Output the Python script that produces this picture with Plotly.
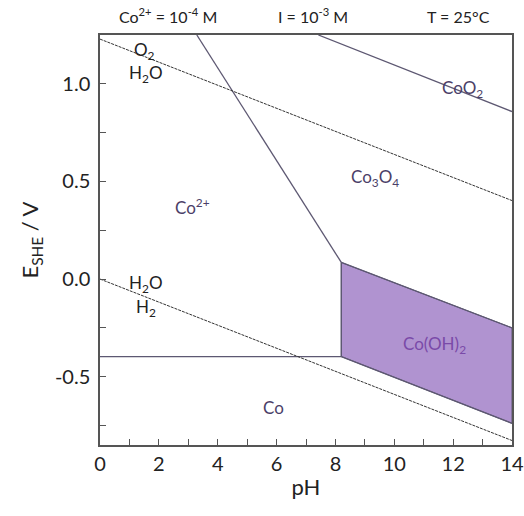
import plotly.graph_objects as go

# water stability lines (dashed)
o2_ph = [0, 14]
o2_e = [1.229, 0.402]
h2_ph = [0, 14]
h2_e = [0.0, -0.827]

# phase boundaries (solid)
co_co2_ph = [0, 8.2]
co_co2_e = [-0.397, -0.397]
co_cooh_ph = [8.2, 14]
co_cooh_e = [-0.397, -0.739]
cooh_top_ph = [8.2, 14]
cooh_top_e = [0.085, -0.25]
vert_ph = [8.2, 8.2]
vert_e = [-0.397, 0.085]
co3o4_co2_ph = [3.29, 8.2]
co3o4_co2_e = [1.25, 0.085]
coo2_ph = [7.42, 14]
coo2_e = [1.25, 0.858]

# Co(OH)2 stability region
cooh_ph = [8.2, 14, 14, 8.2, 8.2]
cooh_e = [0.085, -0.25, -0.739, -0.397, 0.085]

# species labels
species = ['CoO<sub>2</sub>', 'Co<sub>3</sub>O<sub>4</sub>', 'Co<sup>2+</sup>', 'Co(OH)<sub>2</sub>', 'Co']
species_ph = [12.33, 9.35, 3.13, 11.35, 5.9]
species_e = [0.975, 0.52, 0.37, -0.34, -0.66]
water_labels = ['O<sub>2</sub>', 'H<sub>2</sub>O', 'H<sub>2</sub>O', 'H<sub>2</sub>']
water_ph = [1.5, 1.55, 1.55, 1.55]
water_e = [1.17, 1.05, -0.025, -0.15]

header = ['Co<sup>2+</sup> = 10<sup>-4</sup> M', 'I = 10<sup>-3</sup> M', 'T = 25°C']
header_x = [0.165, 0.517, 0.869]

LINE = '#5d5872'
FONT = 'Lato'

fig = go.Figure()
fig.add_trace(go.Scatter(x=cooh_ph, y=cooh_e, fill='toself', fillcolor='#b093d0',
                         mode='lines', line=dict(color=LINE, width=1), hoverinfo='skip'))
for px, py in [(co_co2_ph, co_co2_e), (co_cooh_ph, co_cooh_e), (cooh_top_ph, cooh_top_e),
               (vert_ph, vert_e), (co3o4_co2_ph, co3o4_co2_e), (coo2_ph, coo2_e)]:
    fig.add_trace(go.Scatter(x=px, y=py, mode='lines', line=dict(color=LINE, width=1.3)))
for px, py in [(o2_ph, o2_e), (h2_ph, h2_e)]:
    fig.add_trace(go.Scatter(x=px, y=py, mode='lines',
                             line=dict(color='#333333', width=1, dash='3px,1px')))

for t, x, y in zip(species, species_ph, species_e):
    col = '#7a4aa8' if 'OH' in t else '#4b3f68'
    fig.add_annotation(x=x, y=y, text=t, showarrow=False, font=dict(size=17, color=col))
for t, x, y in zip(water_labels, water_ph, water_e):
    fig.add_annotation(x=x, y=y, text=t, showarrow=False, font=dict(size=17, color='#222222'))
for t, x in zip(header, header_x):
    fig.add_annotation(x=x, y=1.0, xref='paper', yref='paper', xanchor='center',
                       yanchor='bottom', yshift=7,
                       text=t, showarrow=False, font=dict(size=16, color='#222222'))

axis_common = dict(showline=True, linecolor='#555555', linewidth=1.5, mirror=True,
                   ticks='inside', ticklen=6, tickcolor='#555555', showgrid=False, zeroline=False,
                   automargin=False, tickfont=dict(size=20, color='#222222'))
fig.update_xaxes(range=[0, 14], dtick=2, tick0=0,
                 minor=dict(dtick=1, ticks='inside', ticklen=6, tickcolor='#555555'),
                 title=dict(text='pH', font=dict(size=22, color='#222222'), standoff=6),
                 **axis_common)
fig.update_yaxes(range=[-0.85, 1.25], tickvals=[-0.5, 0, 0.5, 1.0],
                 ticktext=['-0.5', '0.0', '0.5', '1.0'], ticklabelstandoff=4,
                 minor=dict(tickvals=[-0.75, -0.25, 0.25, 0.75], ticks='inside', ticklen=6,
                            tickcolor='#555555'),
                 title=dict(text='E<sub>SHE</sub> / V', font=dict(size=22, color='#222222'), standoff=10),
                 **axis_common)
fig.update_layout(width=524, height=516, showlegend=False,
                  margin=dict(l=100, r=12, t=35, b=71),
                  paper_bgcolor='white', plot_bgcolor='white',
                  font=dict(family=FONT))
fig.write_html('out.html', config={'displayModeBar': False},
               post_script="document.body.style.margin='0';")
